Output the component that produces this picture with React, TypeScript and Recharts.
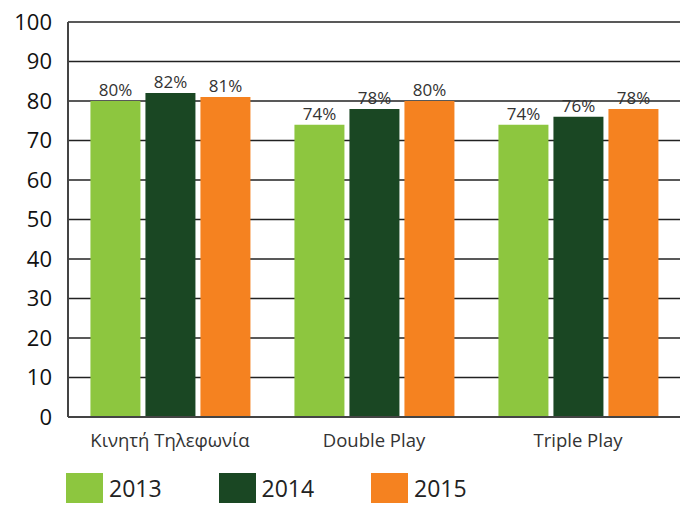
import { BarChart, Bar, XAxis, YAxis, CartesianGrid, LabelList, Legend } from 'recharts';

const categories = ['Κινητή Τηλεφωνία', 'Double Play', 'Triple Play'];
const values2013 = [80, 74, 74];
const values2014 = [82, 78, 76];
const values2015 = [81, 80, 78];
const yTicks = [0, 10, 20, 30, 40, 50, 60, 70, 80, 90, 100];

const series = [
  { key: 'y2013', name: '2013', color: '#8dc63f' },
  { key: 'y2014', name: '2014', color: '#1a4723' },
  { key: 'y2015', name: '2015', color: '#f58220' },
];

const chartData = categories.map((name, i) => ({
  name,
  y2013: values2013[i],
  y2014: values2014[i],
  y2015: values2015[i],
}));

const FONT = '"Open Sans", "DejaVu Sans", sans-serif';

function LegendBox() {
  return (
    <div style={{ position: 'relative', width: 680, height: 40 }}>
      {series.map((s, i) => (
        <div
          key={s.key}
          style={{ position: 'absolute', left: 66 + i * 152.5, top: 16, display: 'flex', alignItems: 'flex-start' }}
        >
          <div style={{ width: 37, height: 30, background: s.color }} />
          <span style={{ marginLeft: 6, marginTop: 2, fontSize: 23, lineHeight: '26px', color: '#222', fontFamily: FONT }}>
            {s.name}
          </span>
        </div>
      ))}
    </div>
  );
}

export default function App() {
  return (
    <div style={{ position: 'absolute', left: 0, top: 0, width: 680, height: 505, background: '#fff', overflow: 'hidden' }}>
      <BarChart
        width={680}
        height={505}
        data={chartData}
        margin={{ top: 22, right: 0, bottom: 0, left: 0 }}
        barCategoryGap="11%"
        barGap={5}
        style={{ fontFamily: FONT }}
      >
        <CartesianGrid vertical={false} stroke="#222" strokeWidth={1.5} />
        <XAxis
          dataKey="name"
          height={40}
          tickLine={false}
          axisLine={{ stroke: '#444', strokeWidth: 2 }}
          tick={{ fill: '#333', fontSize: 18.5 }}
          tickMargin={11}
        />
        <YAxis
          width={68}
          domain={[0, 100]}
          ticks={yTicks}
          interval={0}
          tickLine={false}
          axisLine={{ stroke: '#444', strokeWidth: 2 }}
          tick={{ fill: '#111', fontSize: 22 }}
          tickMargin={10}
        />
        <Legend verticalAlign="bottom" height={48} content={() => <LegendBox />} />
        {series.map(s => (
          <Bar key={s.key} dataKey={s.key} name={s.name} fill={s.color} isAnimationActive={false}>
            <LabelList
              dataKey={s.key}
              position="top"
              offset={5}
              formatter={(v: any) => `${v}%`}
              style={{ fill: '#333', fontSize: 17 }}
            />
          </Bar>
        ))}
      </BarChart>
    </div>
  );
}
